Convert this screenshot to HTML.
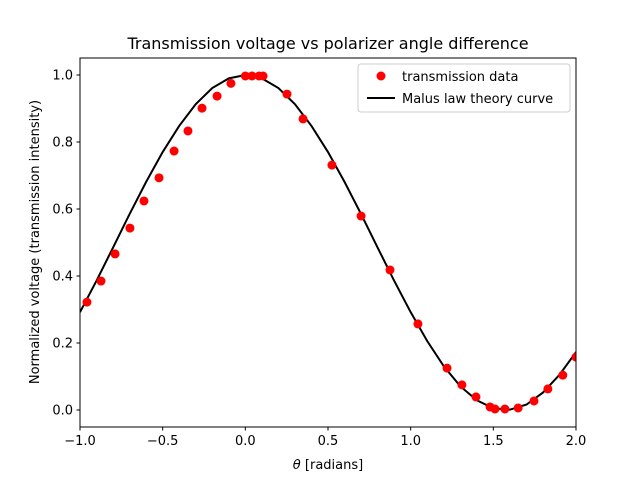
<!DOCTYPE html>
<html><head><meta charset="utf-8"><style>
body{margin:0;background:#fff}
svg{font-family:"DejaVu Sans","Liberation Sans",sans-serif}
</style></head><body>
<svg id="c" width="640" height="480" viewBox="0 0 640 480">
<rect width="640" height="480" fill="#fff"/>
<text x="328" y="49" font-size="16" text-anchor="middle">Transmission voltage vs polarizer angle difference</text>
<g id="plot"></g>
<rect x="80" y="58" width="496" height="369" fill="none" stroke="#000" stroke-width="1"/>
<g id="xt"></g>
<g id="yt"></g>
<text x="328" y="469" font-size="13" text-anchor="middle"><tspan font-style="italic">θ</tspan> [radians]</text>
<text transform="translate(39,242) rotate(-90)" font-size="13" text-anchor="middle">Normalized voltage (transmission intensity)</text>
<g>
<rect x="358" y="64" width="212" height="48" rx="3" fill="#fff" stroke="#ccc"/>
<circle cx="381" cy="76" r="4.5" fill="red"/>
<text x="402" y="81" font-size="13">transmission data</text>
<line x1="367" y1="98" x2="395" y2="98" stroke="#000" stroke-width="2"/>
<text x="402" y="103" font-size="13">Malus law theory curve</text>
</g>
</svg>
<script>
const dataX=[-0.958,-0.873,-0.788,-0.698,-0.613,-0.522,-0.431,-0.347,-0.262,-0.171,-0.087,0,0.04,0.083,0.107,0.252,0.349,0.524,0.70,0.875,1.044,1.22,1.31,1.395,1.48,1.51,1.57,1.65,1.746,1.83,1.92,2.0];
const dataY=[0.322,0.385,0.466,0.543,0.624,0.693,0.773,0.833,0.901,0.937,0.975,0.997,0.997,0.997,0.997,0.943,0.869,0.731,0.579,0.418,0.257,0.125,0.075,0.039,0.009,0.003,0.003,0.006,0.027,0.063,0.104,0.158];
const theoryX=[-1,-0.9,-0.8,-0.7,-0.6,-0.5,-0.4,-0.3,-0.2,-0.1,0,0.1,0.2,0.3,0.4,0.5,0.6,0.7,0.8,0.9,1,1.1,1.2,1.3,1.4,1.5,1.6,1.7,1.8,1.9,2];
const theoryY=[0.292,0.386,0.485,0.585,0.681,0.770,0.848,0.913,0.961,0.990,1,0.990,0.961,0.913,0.848,0.770,0.681,0.585,0.485,0.386,0.292,0.206,0.131,0.071,0.029,0.005,0.001,0.016,0.052,0.105,0.173];
const xTicks=[-1.0,-0.5,0.0,0.5,1.0,1.5,2.0];
const xTickLabels=["−1.0","−0.5","0.0","0.5","1.0","1.5","2.0"];
const yTicks=[0,0.2,0.4,0.6,0.8,1.0];
const yTickLabels=["0.0","0.2","0.4","0.6","0.8","1.0"];
const NS="http://www.w3.org/2000/svg";
const sx=v=>80+(v+1)*496/3;
const sy=v=>410-v*335;
function mk(t,a,p){const e=document.createElementNS(NS,t);for(const k in a)e.setAttribute(k,a[k]);p.appendChild(e);return e;}
const plot=document.getElementById('plot');
const clip=mk('clipPath',{id:'cl'},plot);mk('rect',{x:80,y:58,width:496,height:369},clip);
const pl=mk('polyline',{points:theoryX.map((x,i)=>sx(x)+','+sy(theoryY[i])).join(' '),fill:'none',stroke:'#000','stroke-width':2,'clip-path':'url(#cl)'},plot);


dataX.forEach((x,i)=>{const c=mk('circle',{cx:sx(x),cy:sy(dataY[i]),r:4.5,fill:'red','clip-path':'url(#cl)'},plot);

});
const xt=document.getElementById('xt');
xTicks.forEach((v,i)=>{const l=mk('line',{x1:sx(v),x2:sx(v),y1:427,y2:430.5,stroke:'#000'},xt);


const t=mk('text',{x:sx(v),y:445,'font-size':13,'text-anchor':'middle'},xt);t.textContent=xTickLabels[i];

});
const yt=document.getElementById('yt');
yTicks.forEach((v,i)=>{const l=mk('line',{x1:76.5,x2:80,y1:sy(v),y2:sy(v),stroke:'#000'},yt);


const t=mk('text',{x:73,y:sy(v)+4.5,'font-size':13,'text-anchor':'end'},yt);t.textContent=yTickLabels[i];

});
</script>
</body></html>
